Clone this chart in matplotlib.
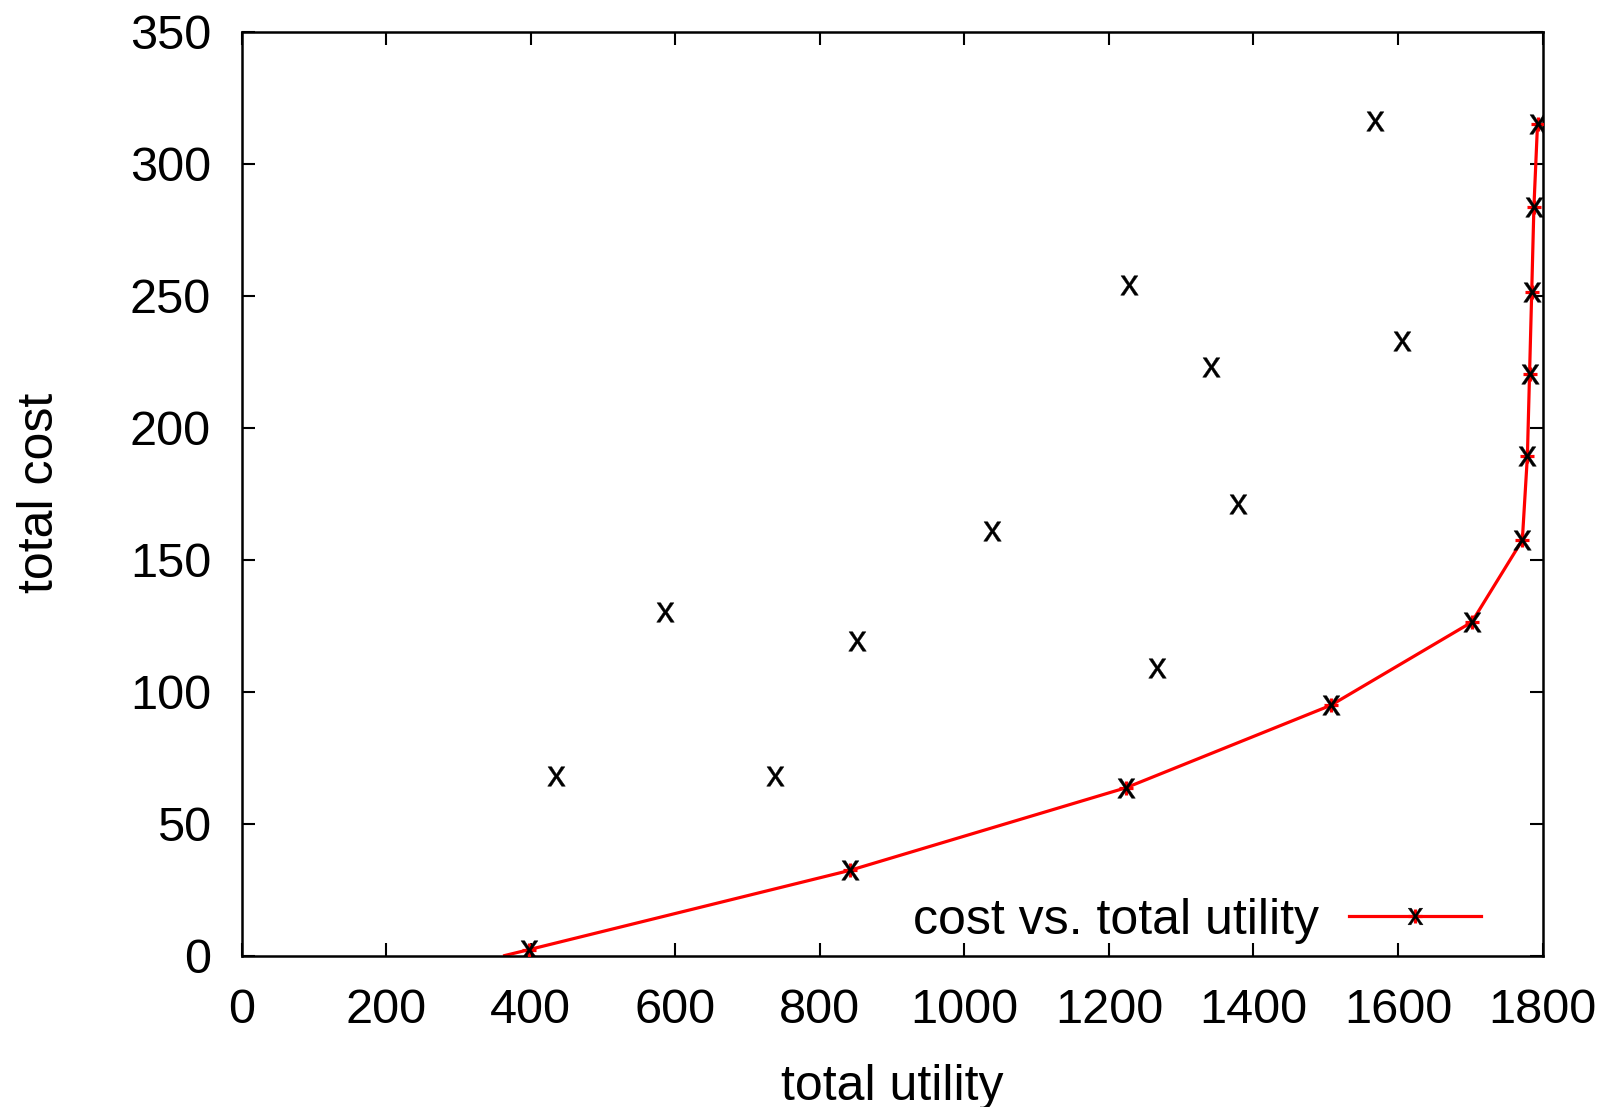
import matplotlib
matplotlib.use("Agg")
import matplotlib.pyplot as plt
from matplotlib.lines import Line2D

plt.rcParams['font.family'] = ['Liberation Sans', 'DejaVu Sans']
plt.rcParams['mathtext.fontset'] = 'custom'
plt.rcParams['mathtext.rm'] = 'Liberation Sans'

# all solutions (utility, cost)
other_utility = [435, 586, 738, 851, 1038, 1228, 1266, 1341, 1379, 1568, 1606]
other_cost = [68, 130, 68, 119, 161, 254, 109, 223, 171, 316, 233]

# pareto frontier
front_utility = [397, 842, 1224, 1507, 1702, 1772, 1779, 1782, 1785, 1788, 1793]
front_cost = [2.2, 32.3, 63.6, 94.8, 126.3, 157.4, 189.2, 220.3, 251.5, 283.4, 314.9]
# line continues down to the axis
line_start_utility = 364
line_start_cost = 0

x_ticks = [0, 200, 400, 600, 800, 1000, 1200, 1400, 1600, 1800]
y_ticks = [0, 50, 100, 150, 200, 250, 300, 350]

fig = plt.figure(figsize=(16.04, 11.07), dpi=100)
ax = fig.add_axes([0.1506, 0.1368, 0.9617 - 0.1506, 0.9714 - 0.1368])

TICK_FS = 35
LAB_FS = 36
xmark = r'$\mathrm{x}$'

line_u = [line_start_utility] + front_utility
line_c = [line_start_cost] + front_cost
ax.plot(line_u, line_c, color='red', lw=2.3, zorder=2)
ax.plot(front_utility, front_cost, ls='none', marker='+', color='red',
        markersize=10.5, mew=2.3, zorder=3)
ax.plot(front_utility + other_utility, front_cost + other_cost, ls='none',
        marker=xmark, color='black', markersize=14, mew=0.3, zorder=4)

ax.set_xlim(0, 1800)
ax.set_ylim(0, 350)
ax.set_xticks(x_ticks)
ax.set_yticks(y_ticks)
ax.set_xticklabels([str(t) for t in x_ticks])
ax.set_yticklabels([str(t) for t in y_ticks])
ax.tick_params(direction='in', length=9.5, width=1.5, top=True, right=True,
               labelsize=TICK_FS)
ax.tick_params(axis='x', pad=23.5)
ax.tick_params(axis='y', pad=22)
for s in ax.spines.values():
    s.set_linewidth(1.8)

ax.set_xlabel('total utility', fontsize=LAB_FS, labelpad=22)
ax.set_ylabel('total cost', fontsize=LAB_FS)
ax.yaxis.set_label_coords(-0.137, 0.501)

h_line = Line2D([], [], color='red', lw=2.3, marker='+', markersize=10.5, mew=2.3)
h_x = Line2D([], [], ls='none', color='black', marker=xmark, markersize=12, mew=0.3)
leg = ax.legend([(h_line, h_x)], ['cost vs. total utility'], loc='center right',
                bbox_to_anchor=(0.9527, 0.0375), frameon=False, markerfirst=False,
                fontsize=LAB_FS, handlelength=2.65, handletextpad=0.6,
                borderpad=0, borderaxespad=0)

fig.savefig('out.png', dpi=100)
